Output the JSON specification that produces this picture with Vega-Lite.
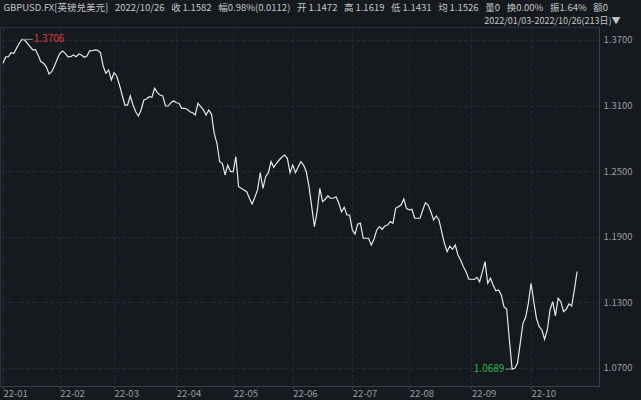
{
  "$schema": "https://vega.github.io/schema/vega-lite/v6.json",
  "width": 599,
  "height": 359,
  "autosize": {"type": "none"},
  "padding": {"left": 0, "top": 27, "right": 42, "bottom": 14},
  "background": "#161a1f",
  "config": {
    "view": {"stroke": "#2c3037"},
    "axis": {
      "labelFont": "Noto Sans CJK SC",
      "labelFontSize": 9.5,
      "labelColor": "#9a9da3",
      "gridColor": "#2a2e35",
      "gridDash": [3, 3],
      "domainColor": "#3a3e46",
      "tickColor": "#3a3e46"
    }
  },
  "datasets": {
    "fx": [
      {"i":0,"v":1.3487},{"i":1,"v":1.3545},{"i":2,"v":1.3547},{"i":3,"v":1.3584},{"i":4,"v":1.3578},
      {"i":5,"v":1.3624},{"i":6,"v":1.3670},{"i":7,"v":1.3706},{"i":8,"v":1.3700},{"i":9,"v":1.3670},
      {"i":10,"v":1.3639},{"i":11,"v":1.3609},{"i":12,"v":1.3612},{"i":13,"v":1.3560},{"i":14,"v":1.3501},
      {"i":15,"v":1.3487},{"i":16,"v":1.3455},{"i":17,"v":1.3389},{"i":18,"v":1.3410},{"i":19,"v":1.3462},
      {"i":20,"v":1.3523},{"i":21,"v":1.3578},{"i":22,"v":1.3599},{"i":23,"v":1.3578},{"i":24,"v":1.3545},
      {"i":25,"v":1.3547},{"i":26,"v":1.3563},{"i":27,"v":1.3547},{"i":28,"v":1.3572},{"i":29,"v":1.3563},
      {"i":30,"v":1.3542},{"i":31,"v":1.3554},{"i":32,"v":1.3600},{"i":33,"v":1.3602},{"i":34,"v":1.3609},
      {"i":35,"v":1.3605},{"i":36,"v":1.3584},{"i":37,"v":1.3460},{"i":38,"v":1.3395},{"i":39,"v":1.3426},
      {"i":40,"v":1.3334},{"i":41,"v":1.3401},{"i":42,"v":1.3371},{"i":43,"v":1.3288},{"i":44,"v":1.3197},
      {"i":45,"v":1.3105},{"i":46,"v":1.3105},{"i":47,"v":1.3188},{"i":48,"v":1.3105},{"i":49,"v":1.3044},
      {"i":50,"v":1.3005},{"i":51,"v":1.3060},{"i":52,"v":1.3151},{"i":53,"v":1.3160},{"i":54,"v":1.3181},
      {"i":55,"v":1.3176},{"i":56,"v":1.3258},{"i":57,"v":1.3218},{"i":58,"v":1.3197},{"i":59,"v":1.3188},
      {"i":60,"v":1.3096},{"i":61,"v":1.3096},{"i":62,"v":1.3126},{"i":63,"v":1.3145},{"i":64,"v":1.3126},
      {"i":65,"v":1.3121},{"i":66,"v":1.3075},{"i":67,"v":1.3075},{"i":68,"v":1.3066},{"i":69,"v":1.3044},
      {"i":70,"v":1.3035},{"i":71,"v":1.3014},{"i":72,"v":1.3121},{"i":73,"v":1.3090},{"i":74,"v":1.3060},
      {"i":75,"v":1.3014},{"i":76,"v":1.3060},{"i":77,"v":1.3020},{"i":78,"v":1.2846},{"i":79,"v":1.2755},
      {"i":80,"v":1.2587},{"i":81,"v":1.2572},{"i":82,"v":1.2465},{"i":83,"v":1.2556},{"i":84,"v":1.2495},
      {"i":85,"v":1.2495},{"i":86,"v":1.2632},{"i":87,"v":1.2358},{"i":88,"v":1.2343},{"i":89,"v":1.2328},
      {"i":90,"v":1.2312},{"i":91,"v":1.2252},{"i":92,"v":1.2200},{"i":93,"v":1.2261},{"i":94,"v":1.2328},
      {"i":95,"v":1.2486},{"i":96,"v":1.2343},{"i":97,"v":1.2449},{"i":98,"v":1.2486},{"i":99,"v":1.2587},
      {"i":100,"v":1.2535},{"i":101,"v":1.2572},{"i":102,"v":1.2602},{"i":103,"v":1.2629},{"i":104,"v":1.2648},
      {"i":105,"v":1.2618},{"i":106,"v":1.2486},{"i":107,"v":1.2556},{"i":108,"v":1.2486},{"i":109,"v":1.2538},
      {"i":110,"v":1.2587},{"i":111,"v":1.2556},{"i":112,"v":1.2495},{"i":113,"v":1.2358},{"i":114,"v":1.2175},
      {"i":115,"v":1.1992},{"i":116,"v":1.2129},{"i":117,"v":1.2343},{"i":118,"v":1.2221},{"i":119,"v":1.2243},
      {"i":120,"v":1.2273},{"i":121,"v":1.2252},{"i":122,"v":1.2252},{"i":123,"v":1.2266},{"i":124,"v":1.2206},
      {"i":125,"v":1.2129},{"i":126,"v":1.2169},{"i":127,"v":1.2099},{"i":128,"v":1.2099},{"i":129,"v":1.1962},
      {"i":130,"v":1.1925},{"i":131,"v":1.2017},{"i":132,"v":1.2023},{"i":133,"v":1.1886},{"i":134,"v":1.1886},
      {"i":135,"v":1.1886},{"i":136,"v":1.1824},{"i":137,"v":1.1877},{"i":138,"v":1.1962},{"i":139,"v":1.1992},
      {"i":140,"v":1.1968},{"i":141,"v":1.1998},{"i":142,"v":1.2007},{"i":143,"v":1.2038},{"i":144,"v":1.2023},
      {"i":145,"v":1.2160},{"i":146,"v":1.2175},{"i":147,"v":1.2190},{"i":148,"v":1.2245},{"i":149,"v":1.2160},
      {"i":150,"v":1.2145},{"i":151,"v":1.2151},{"i":152,"v":1.2069},{"i":153,"v":1.2069},{"i":154,"v":1.2069},
      {"i":155,"v":1.2145},{"i":156,"v":1.2211},{"i":157,"v":1.2190},{"i":158,"v":1.2129},{"i":159,"v":1.2053},
      {"i":160,"v":1.2090},{"i":161,"v":1.2053},{"i":162,"v":1.1946},{"i":163,"v":1.1840},{"i":164,"v":1.1763},
      {"i":165,"v":1.1815},{"i":166,"v":1.1785},{"i":167,"v":1.1824},{"i":168,"v":1.1733},{"i":169,"v":1.1687},
      {"i":170,"v":1.1626},{"i":171,"v":1.1580},{"i":172,"v":1.1511},{"i":173,"v":1.1511},{"i":174,"v":1.1509},
      {"i":175,"v":1.1529},{"i":176,"v":1.1489},{"i":177,"v":1.1577},{"i":178,"v":1.1672},{"i":179,"v":1.1474},
      {"i":180,"v":1.1520},{"i":181,"v":1.1458},{"i":182,"v":1.1406},{"i":183,"v":1.1413},{"i":184,"v":1.1367},
      {"i":185,"v":1.1260},{"i":186,"v":1.1236},{"i":187,"v":1.0955},{"i":188,"v":1.0689},{"i":189,"v":1.0696},
      {"i":190,"v":1.0742},{"i":191,"v":1.0925},{"i":192,"v":1.1108},{"i":193,"v":1.1163},{"i":194,"v":1.1291},
      {"i":195,"v":1.1474},{"i":196,"v":1.1306},{"i":197,"v":1.1154},{"i":198,"v":1.1077},{"i":199,"v":1.1047},
      {"i":200,"v":1.0962},{"i":201,"v":1.1047},{"i":202,"v":1.1230},{"i":203,"v":1.1306},{"i":204,"v":1.1175},
      {"i":205,"v":1.1337},{"i":206,"v":1.1306},{"i":207,"v":1.1214},{"i":208,"v":1.1236},{"i":209,"v":1.1285},
      {"i":210,"v":1.1266},{"i":211,"v":1.1413},{"i":212,"v":1.1582}
    ],
    "ann": [
      {"i":7,"v":1.3706,"to":11,"label":"1.3706","kind":"high"},
      {"i":188,"v":1.0689,"to":185.5,"label":"1.0689","kind":"low"}
    ]
  },
  "resolve": {"axis": {"x": "independent"}},
  "layer": [
    {
      "data": {"name": "fx"},
      "mark": {"type": "line", "color": "#e6e6e6", "strokeWidth": 1.2},
      "encoding": {
        "x": {
          "field": "i", "type": "quantitative",
          "scale": {"domain": [-1.108, 220.09], "nice": false, "zero": false},
          "axis": {
            "orient": "bottom", "title": null,
            "values": [0, 21, 41, 64, 85, 107, 129, 150, 173, 195],
            "labelExpr": "['22-01','22-02','22-03','22-04','22-05','22-06','22-07','22-08','22-09','22-10'][indexof([0,21,41,64,85,107,129,150,173,195], datum.value)]",
            "labelAlign": "left", "labelPadding": -1, "tickSize": 3, "labelFlush": false
          }
        },
        "y": {
          "field": "v", "type": "quantitative",
          "scale": {"domain": [1.05344, 1.38189], "nice": false, "zero": false},
          "axis": {
            "orient": "right",
            "values": [1.07, 1.13, 1.19, 1.25, 1.31, 1.37],
            "format": ".4f", "labelAlign": "left", "labelPadding": 4, "ticks": false,
            "title": "2022/01/03-2022/10/26(213日)▼",
            "titleFont": "Noto Sans CJK SC", "titleFontSize": 9, "titleFontWeight": "normal",
            "titleColor": "#c4c4c4", "titleAngle": 0, "titleAlign": "right", "titleBaseline": "middle",
            "titleX": 21, "titleY": -7
          }
        }
      }
    },
    {
      "data": {"name": "ann"},
      "mark": {"type": "rule", "color": "#8d9096", "strokeWidth": 1},
      "encoding": {
        "x": {
          "field": "i", "type": "quantitative",
          "axis": {
            "orient": "top", "labels": false, "ticks": false, "domain": false, "grid": false,
            "title": "GBPUSD.FX[英镑兑美元]\u2002\u20092022/10/26\u2002\u2009收\u20091.1582\u2002\u2009幅0.98%(0.0112)\u2002\u2009开\u20091.1472\u2002\u2009高\u20091.1619\u2002\u2009低\u20091.1431\u2002\u2009均\u20091.1526\u2002\u2009量0\u2002\u2009换0.00%\u2002\u2009振1.64%\u2002\u2009额0",
            "titleFont": "Noto Sans CJK SC", "titleFontSize": 9.5, "titleFontWeight": "normal",
            "titleColor": "#c4c4c4", "titleAlign": "left", "titleBaseline": "middle",
            "titleX": 3, "titleY": -20
          }
        },
        "x2": {"field": "to"},
        "y": {"field": "v", "type": "quantitative"}
      }
    },
    {
      "data": {"name": "ann"},
      "transform": [{"filter": "datum.kind == 'high'"}],
      "mark": {"type": "text", "align": "left", "dx": 1, "font": "Noto Sans CJK SC", "fontSize": 10},
      "encoding": {
        "x": {"field": "to", "type": "quantitative", "axis": null},
        "y": {"field": "v", "type": "quantitative"},
        "text": {"field": "label"},
        "color": {"field": "kind", "type": "nominal", "scale": {"domain": ["high", "low"], "range": ["#e0353f", "#22b24c"]}, "legend": null}
      }
    },
    {
      "data": {"name": "ann"},
      "transform": [{"filter": "datum.kind == 'low'"}],
      "mark": {"type": "text", "align": "right", "dx": -1, "font": "Noto Sans CJK SC", "fontSize": 10},
      "encoding": {
        "x": {"field": "to", "type": "quantitative", "axis": null},
        "y": {"field": "v", "type": "quantitative"},
        "text": {"field": "label"},
        "color": {"field": "kind", "type": "nominal", "scale": {"domain": ["high", "low"], "range": ["#e0353f", "#22b24c"]}, "legend": null}
      }
    }
  ]
}
